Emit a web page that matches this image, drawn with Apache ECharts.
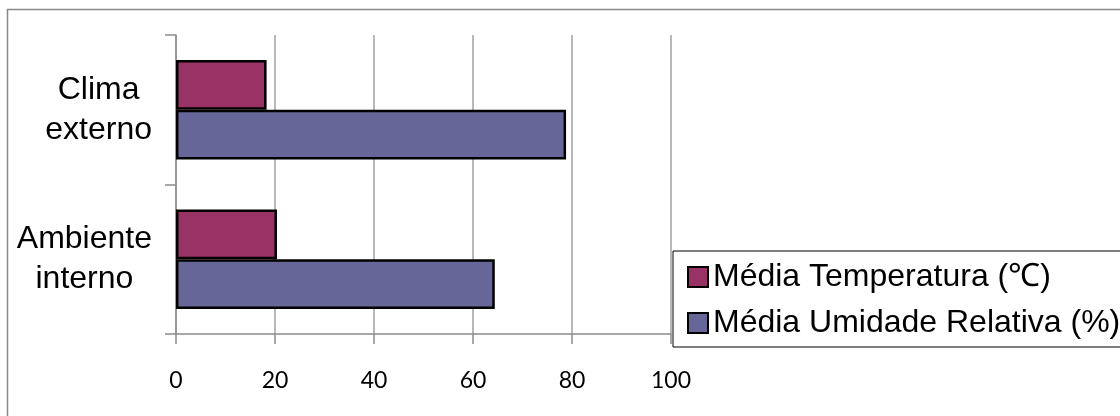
<!DOCTYPE html>
<html>
<head>
<meta charset="utf-8">
<script src="https://cdn.jsdelivr.net/npm/echarts@6/dist/echarts.min.js"></script>
<style>
  html, body { margin: 0; padding: 0; background: #fff; }
  #chart { width: 1120px; height: 416px; }
</style>
</head>
<body>
<div id="chart"></div>
<script>
// Categories (bottom to top on the vertical axis)
const categories = ['Ambiente interno', 'Clima externo'];
// Mean temperature (°C) per category
const mediaTemperatura = [20.4, 18.3];
// Mean relative humidity (%) per category
const mediaUmidade = [64.4, 78.8];
// Value axis ticks
const xTicks = [0, 20, 40, 60, 80, 100];

const serieTemp = 'Média Temperatura (℃)';
const serieUmid = 'Média Umidade Relativa (%)';

const chart = echarts.init(document.getElementById('chart'), null, { renderer: 'canvas' });

const gridColor = '#a0a0a0';
const axisColor = '#8c8c8c';

chart.setOption({
  animation: false,
  backgroundColor: '#ffffff',
  graphic: [{
    type: 'rect',
    z: -10,
    shape: { x: 7.5, y: 9.5, width: 1300, height: 600 },
    style: { fill: 'none', stroke: '#888888', lineWidth: 1.5 }
  }],
  grid: { left: 176, right: 449, top: 35, bottom: 82, containLabel: false },
  legend: {
    orient: 'vertical',
    left: 673,
    top: 251,
    padding: [8, 14, 6, 14],
    itemGap: 10,
    itemWidth: 20,
    itemHeight: 20,
    icon: 'rect',
    itemStyle: { borderColor: '#000', borderWidth: 2 },
    backgroundColor: '#ffffff',
    borderColor: '#000000',
    borderWidth: 1,
    data: [serieTemp, serieUmid],
    textStyle: {
      fontFamily: 'Liberation Sans, Arial, sans-serif',
      fontSize: 32,
      lineHeight: 36,
      color: '#000'
    }
  },
  xAxis: {
    type: 'value',
    min: xTicks[0],
    max: xTicks[xTicks.length - 1],
    interval: xTicks[1] - xTicks[0],
    axisLine: { show: true, lineStyle: { color: axisColor, width: 1.5 } },
    axisTick: { show: true, length: 10, lineStyle: { color: axisColor, width: 1.5 } },
    splitLine: { show: true, lineStyle: { color: gridColor, width: 1.5 } },
    axisLabel: {
      margin: 35,
      fontFamily: 'Lato, Carlito, sans-serif',
      fontSize: 23,
      color: '#000'
    }
  },
  yAxis: {
    type: 'category',
    data: categories,
    axisLine: { show: true, lineStyle: { color: axisColor, width: 1.5 } },
    axisTick: { show: true, length: 11, lineStyle: { color: axisColor, width: 1.5 } },
    splitLine: { show: false },
    axisLabel: {
      margin: 24,
      formatter: function (v) {
        return v.split(' ').map(function (w) { return '{c|' + w + '}'; }).join('\n');
      },
      rich: {
        c: {
          align: 'center',
          fontFamily: 'Liberation Sans, Arial, sans-serif',
          fontSize: 32,
          lineHeight: 40,
          color: '#000'
        }
      }
    }
  },
  series: [
    {
      name: serieTemp,
      type: 'bar',
      data: mediaTemperatura,
      barGap: '0%',
      barCategoryGap: '33.3%',
      itemStyle: { color: '#993366', borderColor: '#000', borderWidth: 2.5 }
    },
    {
      name: serieUmid,
      type: 'bar',
      data: mediaUmidade,
      barGap: '0%',
      barCategoryGap: '33.3%',
      itemStyle: { color: '#666699', borderColor: '#000', borderWidth: 2.5 }
    }
  ]
});
</script>
</body>
</html>
